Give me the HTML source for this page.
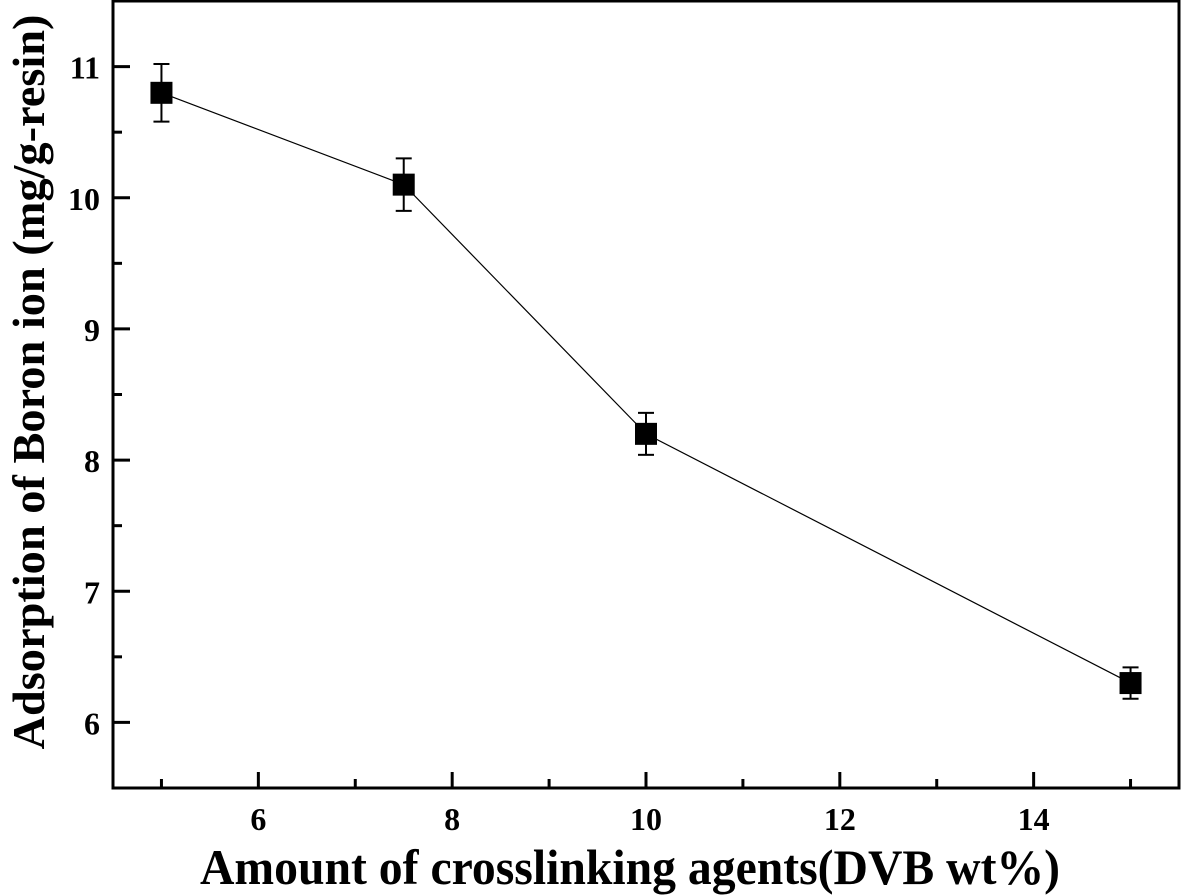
<!DOCTYPE html>
<html><head><meta charset="utf-8"><style>
body{margin:0;background:#fff}
svg{display:block;font-family:"Liberation Serif",serif;font-weight:bold}
</style></head><body>
<svg id="c" width="1181" height="896"></svg>
<script>
const xVals=[5,7.5,10,15];
const yVals=[10.8,10.1,8.2,6.3];
const yErr=[0.22,0.2,0.16,0.12];
const xTicks=[6,8,10,12,14];
const yTicks=[6,7,8,9,10,11];
const L=113,R=1179,T=1,B=788;
const xs=v=>L+(v-4.5)/11*(R-L);
const ys=v=>B-(v-5.5)/6*(B-T);
const svg=document.getElementById('c');
const NS='http://www.w3.org/2000/svg';
function mk(t,a,p){const e=document.createElementNS(NS,t);for(const k in a)e.setAttribute(k,a[k]);(p||svg).appendChild(e);return e;}
let fr=mk('rect',{x:L,y:T,width:R-L,height:B-T,fill:'none',stroke:'#000','stroke-width':3});


for(let v=5;v<=15;v+=1){const x=xs(v);const maj=xTicks.includes(v);
 let t=mk('line',{x1:x,x2:x,y1:B,y2:B-(maj?16:9),stroke:'#000','stroke-width':3});
 }
xTicks.forEach(v=>{let t=mk('text',{x:xs(v),y:B+42,'text-anchor':'middle','font-size':32});t.textContent=v;
 });
for(let v=6;v<=11;v+=0.5){const y=ys(v);const maj=Number.isInteger(v);
 let t=mk('line',{x1:L,x2:L+(maj?17:9),y1:y,y2:y,stroke:'#000','stroke-width':3});
 }
yTicks.forEach(v=>{let t=mk('text',{x:L-13,y:ys(v)+12,'text-anchor':'end','font-size':32});t.textContent=v;
 });
let pl=mk('polyline',{points:xVals.map((x,i)=>xs(x)+','+ys(yVals[i])).join(' '),fill:'none',stroke:'#000','stroke-width':1.2});

xVals.forEach((x,i)=>{const cx=xs(x),y1=ys(yVals[i]+yErr[i]),y2=ys(yVals[i]-yErr[i]);
 const g=mk('g',{stroke:'#000','stroke-width':2});
 
 mk('line',{x1:cx,x2:cx,y1:y1,y2:y2},g);
 mk('line',{x1:cx-8,x2:cx+8,y1:y1,y2:y1},g);
 mk('line',{x1:cx-8,x2:cx+8,y1:y2,y2:y2},g);
 let r=mk('rect',{x:cx-11,y:ys(yVals[i])-11,width:22,height:22,fill:'#000'});
 });
let xt=mk('text',{x:630,y:884,'text-anchor':'middle','font-size':50,textLength:860,lengthAdjust:'spacingAndGlyphs'});xt.textContent='Amount of crosslinking agents(DVB wt%)';

let yt=mk('text',{x:0,y:0,'text-anchor':'middle','font-size':46,textLength:735,lengthAdjust:'spacingAndGlyphs',transform:'translate(44,382) rotate(-90)'});yt.textContent='Adsorption of Boron ion (mg/g-resin)';

</script>
</body></html>
